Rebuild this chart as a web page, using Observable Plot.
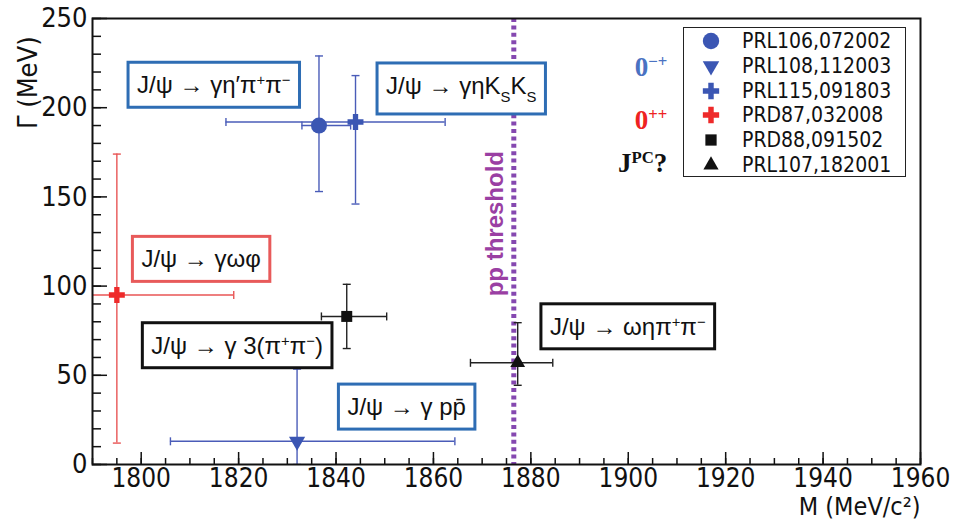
<!DOCTYPE html>
<html><head><meta charset="utf-8">
<script src="https://cdn.jsdelivr.net/npm/d3@7"></script>
<script src="https://cdn.jsdelivr.net/npm/@observablehq/plot@0.6"></script>
<style>
html,body{margin:0;padding:0;background:#fff;}
#chart{position:relative;width:955px;height:525px;}
#legend{position:absolute;left:683px;top:27px;width:223px;height:150px;border:1.5px solid #222;background:#fff;box-sizing:border-box;font-family:"Liberation Sans Narrow","DejaVu Sans Condensed",sans-serif;font-size:21px;color:#111;}
#legend .row{position:absolute;left:0;height:24px;display:flex;align-items:center;}
#legend svg{display:block;}
</style></head><body><div id="chart"></div>
<script>
// ---- data ----
const refs = ["PRL106,072002","PRL108,112003","PRL115,091803","PRD87,032008","PRD88,091502","PRL107,182001"];
const mass = [1836.5, 1832.0, 1844.0, 1795.0, 1842.2, 1877.3];
const massLow = [1833.0, 1806.0, 1817.4, 1774.0, 1837.0, 1867.6];
const massHigh = [1843.0, 1864.4, 1862.4, 1819.0, 1850.4, 1884.5];
const gamma = [190, 13, 192, 95, 83, 57];
const gammaLow = [153, 0, 146, 12, 65, 44.4];
const gammaHigh = [229, 53.5, 218, 174, 101, 79.5];
const threshold = [1876.5];
const xMajor = [1800, 1820, 1840, 1860, 1880, 1900, 1920, 1940, 1960];
const xMinor = d3.range(1790, 1961, 5);
const yMajor = [0, 50, 100, 150, 200, 250];
const yMinor = d3.range(0, 251, 10);
const annLabels = ["J/ψ → γη′π^{+}π^{−}", "J/ψ → γηK_{S}K_{S}", "J/ψ → γωφ", "J/ψ → γ 3(π^{+}π^{−})", "J/ψ → γ pp̄", "J/ψ → ωηπ^{+}π^{−}"];
const annMass = [1814.9, 1865.7, 1812.3, 1819.7, 1854.5, 1899.9];
const annGamma = [212.4, 212.0, 114.8, 66.4, 32.0, 77.0];
const jpcLabels = ["0^{−+}", "0^{++}", "J^{PC}?"];
const jpcGamma = [218, 188, 164];
const jpcMass = 1908;

// ---- styles ----
const markSymbol = ["circle", "triangle", "cross", "cross", "square", "triangle"];
const markRotate = [0, 180, 0, 0, 0, 0];
const markR = [8, 6, 6.7, 6.7, 6.2, 5.5];
const markColor = ["#3b56b3", "#3b56b3", "#3b56b3", "#ee2a2a", "#111111", "#111111"];
const barColor = ["#4a5cb8", "#4a5cb8", "#4a5cb8", "#e85555", "#222222", "#222222"];
const annColor = ["#2e6db4", "#2e6db4", "#e85a5a", "#111111", "#2e6db4", "#111111"];
const jpcColor = ["#4a72c2", "#ee2222", "#111111"];
const narrow = '"Liberation Sans Narrow","DejaVu Sans Condensed",sans-serif';

const rows = refs.map((ref, i) => ({ref, m: mass[i], mlo: massLow[i], mhi: massHigh[i], g: gamma[i], glo: gammaLow[i], ghi: gammaHigh[i]}));

const capH = {draw(ctx, size) { const h = Math.sqrt(size / Math.PI); ctx.moveTo(-h, 0); ctx.lineTo(h, 0); }};
const capV = {draw(ctx, size) { const h = Math.sqrt(size / Math.PI); ctx.moveTo(0, -h); ctx.lineTo(0, h); }};
const plain = (d) => String(d);

const marks = [
  Plot.axisX(xMinor, {tickSize: -6, tickFormat: () => "", label: null, strokeWidth: 1.5}),
  Plot.axisX(xMajor, {tickSize: -12, tickFormat: () => "", label: null, strokeWidth: 1.5}),
  Plot.axisX(xMajor, {tickSize: 0, tickPadding: 4, fontSize: 26, tickFormat: plain, label: null}),
  Plot.axisY(yMinor, {tickSize: -9, tickFormat: () => "", label: null, strokeWidth: 1.5}),
  Plot.axisY(yMajor, {tickSize: -15, tickFormat: () => "", label: null, strokeWidth: 1.5}),
  Plot.axisY(yMajor, {tickSize: 0, tickPadding: 5, fontSize: 27, tickFormat: plain, label: null}),
  Plot.ruleX(threshold, {stroke: "#8548b0", strokeWidth: 5, strokeDasharray: "4,3.4"}),
  Plot.text(["pp threshold"], {x: threshold[0], y: 135, dx: -18, rotate: -90, fill: "#9a3fa3", fontWeight: "bold", fontSize: 24, fontFamily: "Liberation Sans, sans-serif", letterSpacing: "3px"})
];
rows.forEach((r, i) => {
  const s = {stroke: barColor[i], strokeWidth: 1.4, clip: true};
  marks.push(Plot.ruleX([r], {x: "m", y1: "glo", y2: "ghi", ...s}));
  marks.push(Plot.ruleY([r], {y: "g", x1: "mlo", x2: "mhi", ...s}));
  marks.push(Plot.dot([r], {x: "m", y: "ghi", symbol: capH, r: 4, fill: "none", ...s}));
  marks.push(Plot.dot([r], {x: "m", y: "glo", symbol: capH, r: 4, fill: "none", ...s}));
  marks.push(Plot.dot([r], {x: "mlo", y: "g", symbol: capV, r: 4, fill: "none", ...s}));
  marks.push(Plot.dot([r], {x: "mhi", y: "g", symbol: capV, r: 4, fill: "none", ...s}));
});
rows.forEach((r, i) => {
  marks.push(Plot.dot([r], {x: "m", y: "g", symbol: markSymbol[i], r: markR[i], rotate: markRotate[i], fill: markColor[i], stroke: "none"}));
});
annLabels.forEach((t, i) => {
  marks.push(Plot.text([t], {x: annMass[i], y: annGamma[i], fontSize: 24, fill: "#111", fontFamily: "Liberation Sans, Arial, sans-serif"}));
});
jpcLabels.forEach((t, i) => {
  marks.push(Plot.text([t], {x: jpcMass, y: jpcGamma[i], textAnchor: "end", lineAnchor: "bottom", fontSize: 27, fontWeight: "bold", fill: jpcColor[i], fontFamily: "Liberation Serif, serif"}));
});
marks.push(Plot.text(["M (MeV/c²)"], {frameAnchor: "bottom-right", textAnchor: "end", dy: 50, fontSize: 25, fontFamily: narrow}));
marks.push(Plot.text(["Γ (MeV)"], {frameAnchor: "left", y: 214, textAnchor: "middle", rotate: -90, dx: -64, fontSize: 27, fontFamily: narrow}));
marks.push(Plot.frame({stroke: "#111", strokeWidth: 2}));

const svg = Plot.plot({
  width: 955, height: 525,
  marginLeft: 92, marginRight: 35, marginTop: 18, marginBottom: 61,
  x: {domain: [1790, 1960]},
  y: {domain: [0, 250]},
  style: {fontFamily: narrow, background: "white", color: "#111", overflow: "visible"},
  marks
});
const chart = document.getElementById("chart");
chart.appendChild(svg);

// rich text (superscripts/subscripts) and annotation boxes
function rich(el, s) {
  while (el.firstChild) el.removeChild(el.firstChild);
  const re = /([\^_])\{([^}]*)\}/g;
  let last = 0, m;
  const add = (txt) => { const t = document.createElementNS("http://www.w3.org/2000/svg", "tspan"); t.textContent = txt; el.appendChild(t); return t; };
  while ((m = re.exec(s))) {
    if (m.index > last) add(s.slice(last, m.index));
    const t = add(m[2]);
    t.setAttribute("baseline-shift", m[1] === "^" ? "super" : "sub");
    t.style.fontSize = "0.62em";
    last = re.lastIndex;
  }
  if (last < s.length) add(s.slice(last));
}
d3.select(svg).selectAll("text").each(function() {
  const s = this.textContent;
  const ai = annLabels.indexOf(s);
  if (/[\^_]\{/.test(s)) rich(this, s);
  if (ai >= 0) {
    const b = this.getBBox();
    const padX = 9, padY = 9;
    const rect = document.createElementNS("http://www.w3.org/2000/svg", "rect");
    rect.setAttribute("x", b.x - padX);
    rect.setAttribute("y", b.y - padY);
    rect.setAttribute("width", b.width + 2 * padX);
    rect.setAttribute("height", b.height + 2 * padY);
    rect.setAttribute("fill", "white");
    rect.setAttribute("stroke", annColor[ai]);
    rect.setAttribute("stroke-width", 3);
    const tr = this.getAttribute("transform");
    if (tr) rect.setAttribute("transform", tr);
    this.parentNode.insertBefore(rect, this);
  }
});

// legend
const legend = document.createElement("div");
legend.id = "legend";
chart.appendChild(legend);
refs.forEach((ref, i) => {
  const row = document.createElement("div");
  row.className = "row";
  row.style.top = (1 + i * 24.8) + "px";
  const ns = "http://www.w3.org/2000/svg";
  const s = document.createElementNS(ns, "svg");
  s.setAttribute("width", 58); s.setAttribute("height", 24);
  const p = document.createElementNS(ns, "path");
  const symType = {circle: d3.symbolCircle, triangle: d3.symbolTriangle, cross: d3.symbolCross, square: d3.symbolSquare}[markSymbol[i]];
  p.setAttribute("d", d3.symbol(symType, Math.PI * markR[i] * markR[i] * 1.05)());
  p.setAttribute("transform", `translate(27,12) rotate(${markRotate[i]})`);
  p.setAttribute("fill", markColor[i]);
  s.appendChild(p);
  row.appendChild(s);
  const t = document.createElement("span");
  t.textContent = ref;
  row.appendChild(t);
  legend.appendChild(row);
});
</script></body></html>
